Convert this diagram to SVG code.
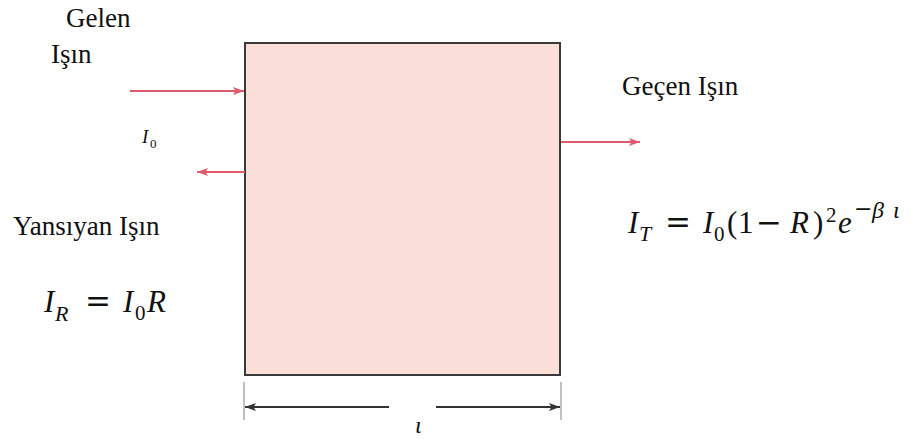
<svg xmlns="http://www.w3.org/2000/svg" width="923" height="439" viewBox="0 0 923 439">
  <style>
    .ray { stroke: #e05a6e; stroke-width: 2; fill: none; }
    .dim { stroke: #333; stroke-width: 2; fill: none; }
    .tick { stroke: #aaa; stroke-width: 1.5; fill: none; }
  </style>
  <defs>
    <marker id="arrRay" markerUnits="userSpaceOnUse" markerWidth="12" markerHeight="10" refX="11" refY="4.5" orient="auto">
      <path d="M0,0.5 L11,4.5 L0,8.5 L2.5,4.5 z" fill="#e05a6e"/>
    </marker>
    <marker id="arrDim" markerUnits="userSpaceOnUse" markerWidth="12" markerHeight="10" refX="11" refY="4.5" orient="auto">
      <path d="M0,0.5 L11,4.5 L0,8.5 L2.5,4.5 z" fill="#333"/>
    </marker>
  </defs>
  <rect width="923" height="439" fill="#ffffff"/>

  <g id="slab">
    <rect x="245" y="43" width="315" height="332" fill="#f9dfd8" stroke="#3a3a3a" stroke-width="2"/>
  </g>

  <g id="connectors">
    <line class="ray" x1="130" y1="91" x2="244" y2="91" marker-end="url(#arrRay)"/>
    <line class="ray" x1="245" y1="172" x2="197" y2="172" marker-end="url(#arrRay)"/>
    <line class="ray" x1="561" y1="142" x2="640" y2="142" marker-end="url(#arrRay)"/>
    <line class="tick" x1="244" y1="382" x2="244" y2="420"/>
    <line class="tick" x1="561" y1="382" x2="561" y2="420"/>
    <line class="dim" x1="389" y1="407" x2="245" y2="407" marker-end="url(#arrDim)"/>
    <line class="dim" x1="436" y1="407" x2="560" y2="407" marker-end="url(#arrDim)"/>
  </g>

  <g id="incident-label" font-family="Liberation Serif" fill="#111">
    <text x="66" y="27" font-size="27">Gelen</text>
    <text x="51" y="63" font-size="27">Işın</text>
    <text x="142" y="143" font-size="19" font-style="italic">I</text>
    <text x="150" y="148" font-size="13">0</text>
  </g>

  <g id="reflected-label" font-family="Liberation Serif" fill="#111">
    <text x="13" y="235" font-size="27">Yansıyan Işın</text>
    <text x="44" y="312" font-size="31" font-style="italic">I</text>
    <text x="55" y="321" font-size="22" font-style="italic">R</text>
    <text x="85" y="312" font-size="31" font-family="DejaVu Serif">=</text>
    <text x="123" y="312" font-size="31" font-style="italic">I</text>
    <text x="135" y="320" font-size="21">0</text>
    <text x="147" y="312" font-size="31" font-style="italic">R</text>
  </g>

  <g id="transmitted-label" font-family="Liberation Serif" fill="#111">
    <text x="622" y="95" font-size="27">Geçen Işın</text>
    <text x="628" y="233" font-size="31" font-style="italic">I</text>
    <text x="639" y="241" font-size="22" font-style="italic">T</text>
    <text x="665" y="233" font-size="31" font-family="DejaVu Serif">=</text>
    <text x="703" y="233" font-size="31" font-style="italic">I</text>
    <text x="714" y="241" font-size="21">0</text>
    <text x="727" y="233" font-size="31">(</text>
    <text x="738" y="233" font-size="31">1</text>
    <text x="756" y="233" font-size="31" font-family="DejaVu Serif">−</text>
    <text x="790" y="233" font-size="31" font-style="italic">R</text>
    <text x="813" y="233" font-size="31">)</text>
    <text x="826" y="222" font-size="21">2</text>
    <text x="838" y="233" font-size="31" font-style="italic">e</text>
    <text x="854" y="216" font-size="22" font-family="DejaVu Serif">−</text>
    <text x="872" y="218" font-size="24" font-style="italic">β</text>
    <text x="893" y="218" font-size="24" font-style="italic">ι</text>
  </g>

  <g id="thickness-label" font-family="Liberation Serif" fill="#111">
    <text x="415" y="433" font-size="24" font-style="italic">ι</text>
  </g>
</svg>
